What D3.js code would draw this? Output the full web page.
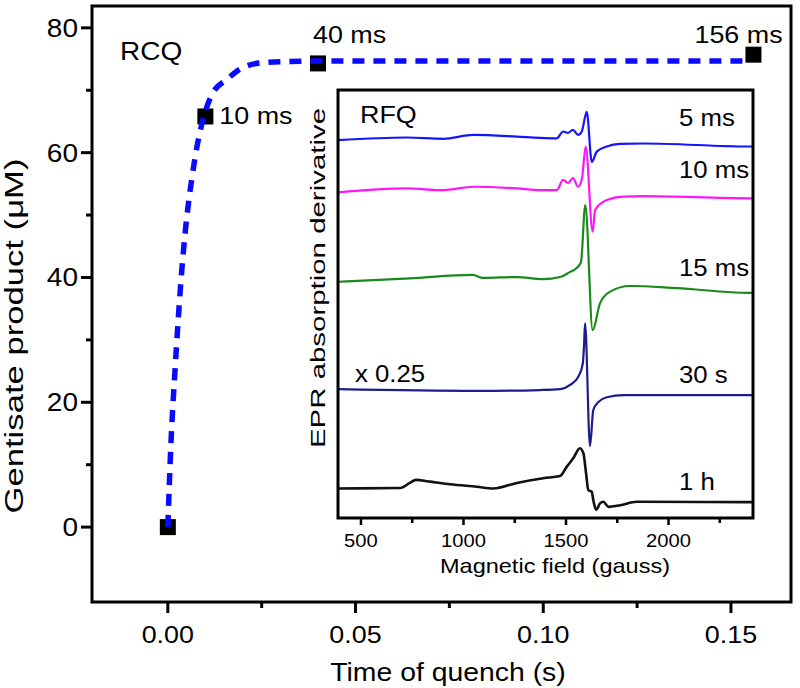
<!DOCTYPE html>
<html>
<head>
<meta charset="utf-8">
<script src="https://cdn.jsdelivr.net/npm/d3@7"></script>
<style>
  html, body { margin: 0; padding: 0; background: #fff; }
  svg { display: block; }
  text { font-family: "Liberation Sans", Arial, Helvetica, sans-serif; fill: #000; }
</style>
</head>
<body>
<svg id="chart" width="800" height="688"></svg>
<script>
// ---------------- DATA ----------------
// RCQ (rapid chemical quench) gentisate product
const quenchTime = [0, 0.010, 0.040, 0.156];          // s
const gentisate = [0, 65.8, 74.3, 75.7];               // µM
const quenchLabels = ["", "10 ms", "40 ms", "156 ms"];

// dashed fit curve
const fitTime  = [0, 0.0008, 0.0019, 0.0037, 0.0072, 0.0096, 0.012, 0.0157, 0.019, 0.025, 0.032, 0.040, 0.080, 0.120, 0.155];
const fitValue = [0, 13, 25, 41, 59, 65.8, 69.6, 71.7, 73.3, 74.4, 74.6, 74.7, 74.7, 74.7, 74.7];

const xTicksMain = [0, 0.05, 0.10, 0.15];
const xMinorMain = [0.025, 0.075, 0.125];
const yTicksMain = [0, 20, 40, 60, 80];
const yMinorMain = [10, 30, 50, 70];

// RFQ EPR spectra (field in gauss, intensity in arbitrary units incl. vertical offset)
const field5ms  = [388, 723, 902, 1048, 1260, 1373, 1455, 1486, 1510, 1534, 1559, 1577, 1601, 1626, 1650, 1699, 1764, 1877, 2394, 2412];
const epr5ms    = [88.3, 88.9, 88.6, 89.5, 89.1, 88.8, 88.7, 90.3, 90.0, 90.7, 89.5, 90.3, 94.9, 83.2, 85.6, 86.8, 87.4, 87.5, 86.8, 86.8];
const field10ms = [388, 723, 902, 1048, 1260, 1373, 1455, 1486, 1510, 1534, 1559, 1578, 1596, 1630, 1642, 1699, 1778, 1877, 2394, 2412];
const epr10ms   = [76.1, 77.0, 76.6, 77.4, 77.0, 76.6, 76.6, 79.0, 78.3, 79.4, 77.4, 79.4, 86.8, 66.9, 72.0, 74.3, 75.1, 75.2, 74.7, 74.7];
const field15ms = [388, 739, 1046, 1095, 1261, 1388, 1471, 1520, 1552, 1573, 1594, 1630, 1666, 1715, 1812, 2040, 2393, 2412];
const epr15ms   = [55.2, 56.0, 56.8, 56.1, 56.3, 55.8, 56.3, 57.5, 58.4, 59.8, 73.1, 43.9, 50.2, 52.9, 54.2, 53.7, 52.6, 52.6];
const field30s  = [388, 1066, 1373, 1471, 1520, 1560, 1582, 1588, 1593, 1617, 1633, 1658, 1699, 1780, 2393, 2412];
const epr30s    = [30.1, 29.7, 29.9, 30.1, 31.1, 33.0, 36.1, 40.4, 45.5, 16.8, 25.2, 27.1, 28.2, 28.7, 28.7, 28.7];
const field1h   = [388, 690, 739, 768, 837, 934, 1065, 1146, 1260, 1389, 1471, 1504, 1536, 1568, 1585, 1598, 1609, 1626, 1633, 1647, 1666, 1682, 1707, 1764, 1845, 2393, 2412];
const epr1h     = [6.9, 7.0, 8.2, 8.9, 8.5, 7.9, 7.3, 6.9, 8.2, 9.3, 9.8, 12.0, 14.0, 16.3, 15.1, 10.4, 6.5, 6.1, 4.2, 1.9, 3.4, 3.8, 2.6, 3.0, 3.8, 3.7, 3.7];

const traceNames  = ["5 ms", "10 ms", "15 ms", "30 s", "1 h"];
const traceColors = ["#1414ff", "#ff14ff", "#198a19", "#1c1c8e", "#111111"];
const traceFields = [field5ms, field10ms, field15ms, field30s, field1h];
const traceValues = [epr5ms, epr10ms, epr15ms, epr30s, epr1h];
const traceLabelY = [91.5, 79.5, 56.6, 31.5, 6.5];   // label baseline position in a.u.

const xTicksInset = [500, 1000, 1500, 2000];
const xMinorInset = [750, 1250, 1750, 2250];

// ---------------- DRAW ----------------
const svg = d3.select("#chart");
const SX = 1.12;   // horizontal text stretch seen in the reference

function stretch(sel, factor) {
  sel.each(function () {
    const L = this.getComputedTextLength();
    this.setAttribute("textLength", L * factor);
    this.setAttribute("lengthAdjust", "spacingAndGlyphs");
  });
  return sel;
}

// main scales
const x = d3.scaleLinear().domain([-0.0202, 0.166]).range([92, 791]);
const y = d3.scaleLinear().domain([-12, 83.5]).range([602, 6]);

// main frame
svg.append("rect").attr("x", 92).attr("y", 6).attr("width", 791 - 92).attr("height", 602 - 6)
  .attr("fill", "none").attr("stroke", "#000").attr("stroke-width", 3);

// main x axis
const gx = svg.append("g").attr("transform", "translate(0,602)");
gx.selectAll("line.maj").data(xTicksMain).join("line")
  .attr("x1", d => x(d)).attr("x2", d => x(d)).attr("y1", 0).attr("y2", 11)
  .attr("stroke", "#000").attr("stroke-width", 3);
gx.selectAll("line.min").data(xMinorMain).join("line")
  .attr("x1", d => x(d)).attr("x2", d => x(d)).attr("y1", 0).attr("y2", 6)
  .attr("stroke", "#000").attr("stroke-width", 3);
stretch(gx.selectAll("text").data(xTicksMain).join("text")
  .attr("x", d => x(d)).attr("y", 41).attr("text-anchor", "middle")
  .attr("font-size", 24).text(d => d3.format(".2f")(d)), SX);

// main y axis
const gy = svg.append("g").attr("transform", "translate(92,0)");
gy.selectAll("line.maj").data(yTicksMain).join("line")
  .attr("x1", -11).attr("x2", 0).attr("y1", d => y(d)).attr("y2", d => y(d))
  .attr("stroke", "#000").attr("stroke-width", 3);
gy.selectAll("line.min").data(yMinorMain).join("line")
  .attr("x1", -6).attr("x2", 0).attr("y1", d => y(d)).attr("y2", d => y(d))
  .attr("stroke", "#000").attr("stroke-width", 3);
stretch(gy.selectAll("text").data(yTicksMain).join("text")
  .attr("x", -14).attr("y", d => y(d) + 9).attr("text-anchor", "end")
  .attr("font-size", 25).text(d => d), SX);

// axis titles
stretch(svg.append("text").attr("x", 448).attr("y", 681).attr("text-anchor", "middle")
  .attr("font-size", 25).text("Time of quench (s)"), 1.135);
svg.append("text").attr("transform", "translate(23,336) rotate(-90)")
  .attr("text-anchor", "middle").attr("font-size", 25)
  .attr("textLength", 355).attr("lengthAdjust", "spacingAndGlyphs")
  .text("Gentisate product (\u03bcM)");

// RCQ label
stretch(svg.append("text").attr("x", 120).attr("y", 60).attr("font-size", 25).text("RCQ"), SX);

// ---------------- INSET ----------------
const ix = d3.scaleLinear().domain([388, 2412]).range([338, 753]);
const iy = d3.scaleLinear().domain([0, 100]).range([518, 90]);

svg.append("rect").attr("x", 338).attr("y", 90).attr("width", 753 - 338).attr("height", 518 - 90)
  .attr("fill", "#fff").attr("stroke", "none");

const line = d3.line().x(d => ix(d[0])).y(d => iy(d[1])).curve(d3.curveMonotoneX);
const gTraces = svg.append("g");
traceNames.forEach((name, i) => {
  const pts = traceFields[i].map((f, k) => [f, traceValues[i][k]]);
  gTraces.append("path").datum(pts).attr("d", line)
    .attr("fill", "none").attr("stroke", traceColors[i])
    .attr("stroke-width", i === 4 ? 2.6 : 2.2).attr("stroke-linejoin", "round");
  stretch(svg.append("text").attr("x", 679).attr("y", iy(traceLabelY[i]))
    .attr("font-size", 23).text(name), SX);
});

svg.append("rect").attr("x", 338).attr("y", 90).attr("width", 753 - 338).attr("height", 518 - 90)
  .attr("fill", "none").attr("stroke", "#000").attr("stroke-width", 3);

stretch(svg.append("text").attr("x", 360).attr("y", 123).attr("font-size", 24).text("RFQ"), SX);
stretch(svg.append("text").attr("x", 355).attr("y", 382).attr("font-size", 23).text("x 0.25"), SX);

const gix = svg.append("g").attr("transform", "translate(0,518)");
gix.selectAll("line.maj").data(xTicksInset).join("line")
  .attr("x1", d => ix(d)).attr("x2", d => ix(d)).attr("y1", 0).attr("y2", 7)
  .attr("stroke", "#000").attr("stroke-width", 2.5);
gix.selectAll("line.min").data(xMinorInset).join("line")
  .attr("x1", d => ix(d)).attr("x2", d => ix(d)).attr("y1", 0).attr("y2", 5)
  .attr("stroke", "#000").attr("stroke-width", 2.5);
stretch(gix.selectAll("text").data(xTicksInset).join("text")
  .attr("x", d => ix(d)).attr("y", 29).attr("text-anchor", "middle")
  .attr("font-size", 18).text(d => d), SX);

stretch(svg.append("text").attr("x", 555).attr("y", 573).attr("text-anchor", "middle")
  .attr("font-size", 21).text("Magnetic field (gauss)"), SX);
svg.append("text").attr("transform", "translate(325,278) rotate(-90)")
  .attr("text-anchor", "middle").attr("font-size", 21)
  .attr("textLength", 340).attr("lengthAdjust", "spacingAndGlyphs")
  .text("EPR absorption derivative");

// ---------------- MAIN DATA ----------------
const pts = quenchTime.map((t, i) => ({ t, v: gentisate[i], label: quenchLabels[i] }));
svg.selectAll("rect.pt").data(pts).join("rect").attr("class", "pt")
  .attr("x", d => x(d.t) - 8).attr("y", d => y(d.v) - 8).attr("width", 16).attr("height", 16)
  .attr("fill", "#000");

const fitLine = d3.line().x(d => x(d[0])).y(d => y(d[1])).curve(d3.curveMonotoneX);
svg.append("path").datum(fitTime.map((t, i) => [t, fitValue[i]]))
  .attr("d", fitLine).attr("fill", "none").attr("stroke", "#0a0aff")
  .attr("stroke-width", 5.5).attr("stroke-dasharray", "12,9");

const labelOffsets = [null, [14, 8], [-5, -20], [-59, -12]];
pts.forEach((d, i) => {
  if (!d.label) return;
  stretch(svg.append("text").attr("x", x(d.t) + labelOffsets[i][0]).attr("y", y(d.v) + labelOffsets[i][1])
    .attr("font-size", 24).text(d.label), SX);
});
</script>
</body>
</html>
